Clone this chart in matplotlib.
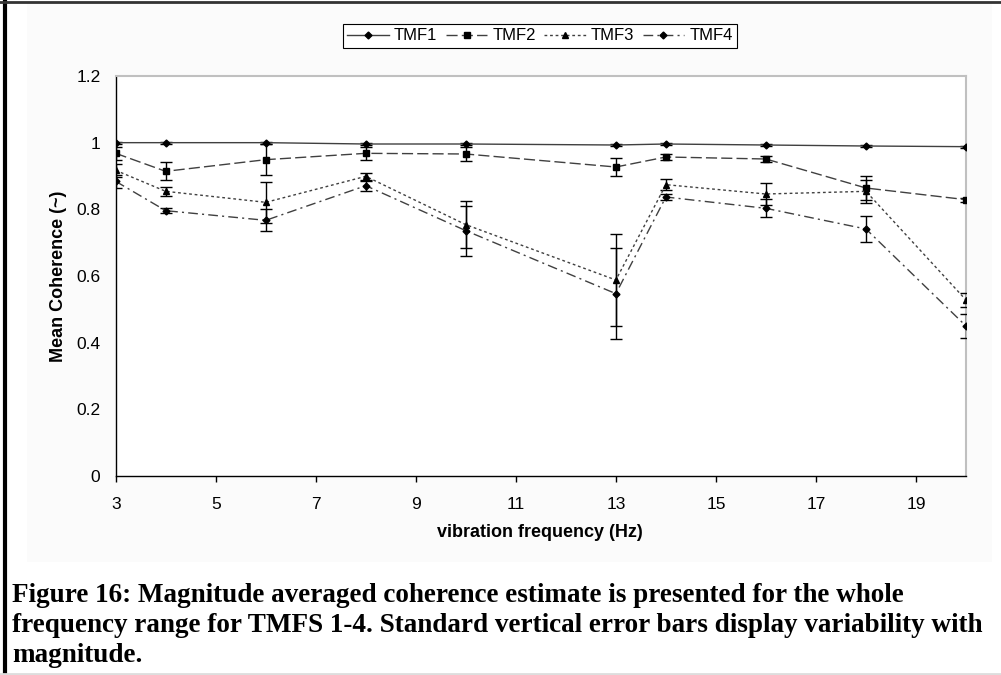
import matplotlib
matplotlib.use("Agg")
import matplotlib.pyplot as plt
from matplotlib.patches import Rectangle
from matplotlib.lines import Line2D

# data
freq = [3, 4, 6, 8, 10, 13, 14, 16, 18, 20]
tmf1 = [1.000, 1.000, 1.000, 0.996, 0.996, 0.993, 0.996, 0.993, 0.990, 0.988]
tmf1_err = [0.003, 0.003, 0.003, 0.003, 0.003, 0.003, 0.003, 0.003, 0.003, 0.003]
tmf2 = [0.968, 0.914, 0.949, 0.968, 0.966, 0.927, 0.957, 0.951, 0.864, 0.829]
tmf2_err = [0.020, 0.027, 0.047, 0.020, 0.020, 0.027, 0.008, 0.008, 0.035, 0.006]
tmf3 = [0.917, 0.854, 0.821, 0.899, 0.754, 0.588, 0.874, 0.846, 0.854, 0.528]
tmf3_err = [0.020, 0.013, 0.062, 0.010, 0.070, 0.139, 0.017, 0.033, 0.035, 0.022]
tmf4 = [0.884, 0.796, 0.767, 0.871, 0.736, 0.547, 0.837, 0.803, 0.741, 0.450]
tmf4_err = [0.020, 0.008, 0.033, 0.015, 0.075, 0.137, 0.010, 0.027, 0.040, 0.035]

labels = ["TMF1", "TMF2", "TMF3", "TMF4"]
x_ticks = [3, 5, 7, 9, 11, 13, 15, 17, 19]
y_ticks = [0, 0.2, 0.4, 0.6, 0.8, 1, 1.2]
y_tick_labels = ["0", "0.2", "0.4", "0.6", "0.8", "1", "1.2"]

caption = [
    "Figure 16: Magnitude averaged coherence estimate is presented for the whole",
    "frequency range for TMFS 1-4. Standard vertical error bars display variability with",
    "magnitude.",
]

W, H = 1001, 675
fig = plt.figure(figsize=(W / 100, H / 100), dpi=100)
fig.patch.set_facecolor("white")

# very light grey chart area + page border lines
fig.add_artist(Rectangle((27 / W, 1 - 562 / H), (992 - 27) / W, (562 - 3) / H,
                         transform=fig.transFigure, facecolor="#fbfbfb",
                         edgecolor="none", zorder=0))
fig.add_artist(Line2D([5 / W, 5 / W], [0, 1], transform=fig.transFigure,
                      color="black", lw=3))
fig.add_artist(Line2D([0, 1], [1 - 1.5 / H, 1 - 1.5 / H], transform=fig.transFigure,
                      color="#333333", lw=2))
fig.add_artist(Line2D([0, 1], [1.5 / H, 1.5 / H], transform=fig.transFigure,
                      color="#dddddd", lw=2))

left, right, top, bottom = 115.7, 966, 76, 476
ax = fig.add_axes([left / W, 1 - bottom / H, (right - left) / W, (bottom - top) / H])
ax.set_facecolor("white")

series = [
    (tmf1, tmf1_err, "-", "D", 3.5),
    (tmf2, tmf2_err, (0, (8, 3)), "s", 5),
    (tmf3, tmf3_err, (0, (2, 2)), "^", 5),
    (tmf4, tmf4_err, (0, (7, 3, 1.5, 3)), "D", 3.5),
]
handles = []
for (vals, err, ls, mk, ms), lab in zip(series, labels):
    ax.errorbar(freq, vals, yerr=err, fmt="none", ecolor="black",
                elinewidth=1, capsize=4, capthick=1, zorder=3)
    h, = ax.plot(freq, vals, color="#404040", lw=1, linestyle=ls,
                 marker=mk, markersize=ms, markerfacecolor="black",
                 markeredgecolor="black", label=lab, zorder=4)
    handles.append(h)

ax.set_xlim(3, 20)
ax.set_ylim(0, 1.2)
ax.set_xticks(x_ticks)
ax.set_yticks(y_ticks)
ax.set_yticklabels(y_tick_labels)
ax.tick_params(axis="x", direction="out", length=4, width=1, pad=11,
               labelsize=12.5)
ax.tick_params(axis="y", length=0, pad=11, labelsize=12.5)
for lab in ax.get_xticklabels() + ax.get_yticklabels():
    lab.set_fontfamily("Liberation Sans")

ax.spines["left"].set_color("black")
ax.spines["bottom"].set_color("black")
ax.spines["left"].set_linewidth(1)
ax.spines["bottom"].set_linewidth(1)
ax.spines["top"].set_color("#c0c0c0")
ax.spines["right"].set_color("#c0c0c0")
ax.spines["top"].set_linewidth(1.5)
ax.spines["right"].set_linewidth(1.5)

ax.set_xlabel("vibration frequency (Hz)", fontsize=13, fontweight="bold",
              fontfamily="Liberation Sans")
ax.xaxis.set_label_coords((540 - left) / (right - left), -(524 - bottom) / (bottom - top))
ax.set_ylabel("Mean Coherence (~)", fontsize=13, fontweight="bold",
              fontfamily="Liberation Sans")
ax.yaxis.set_label_coords(-(left - 67) / (right - left), 0.5)

leg = fig.legend(handles=handles, labels=labels, loc="center", ncol=4,
                 bbox_to_anchor=(540 / W, 1 - 36 / H), frameon=True,
                 fancybox=False, edgecolor="black", facecolor="white",
                 framealpha=1, handlelength=2.5, handletextpad=0.3,
                 columnspacing=0.5, borderpad=0.25,
                 prop={"family": "Liberation Sans", "size": 12})
leg.get_frame().set_linewidth(0.8)

for i, line in enumerate(caption):
    fig.text(12 / W, 1 - (596 + 29.5 * i) / H, line, ha="left", va="center",
             fontfamily="Liberation Serif", fontweight="bold", fontsize=19.5)

fig.savefig("out.png", dpi=100, facecolor=fig.get_facecolor())
